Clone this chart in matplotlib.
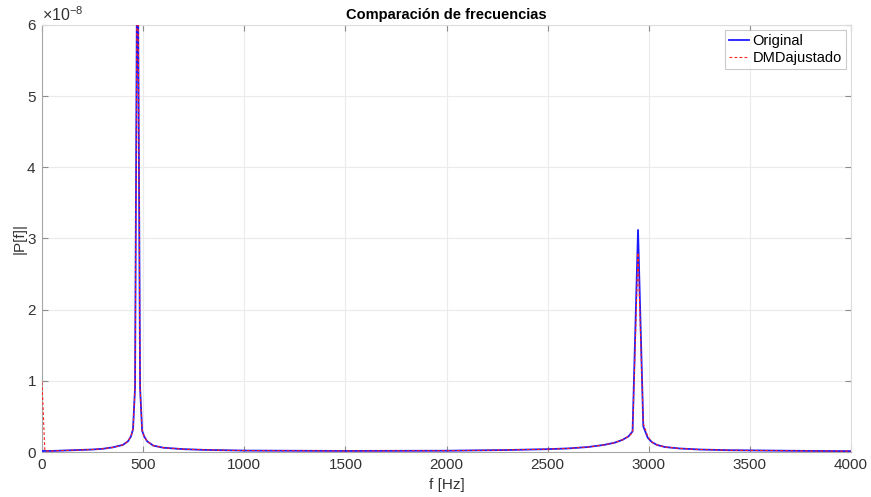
import matplotlib
matplotlib.use("Agg")
import matplotlib.pyplot as plt
from matplotlib.ticker import ScalarFormatter, MultipleLocator

plt.rcParams['font.family'] = ['Liberation Sans', 'DejaVu Sans']
plt.rcParams['mathtext.fontset'] = 'custom'
plt.rcParams['mathtext.rm'] = 'Liberation Sans'
plt.rcParams['mathtext.it'] = 'Liberation Sans'

# Frequency samples [Hz]
freq = [0, 14, 50, 100, 150, 200, 250, 300, 350, 400, 425, 440, 450, 460, 472,
        485, 495, 505, 520, 550, 600, 700, 800, 1000, 1200, 1500, 2000, 2300,
        2500, 2600, 2700, 2780, 2830, 2870, 2900, 2920, 2947, 2973, 2995, 3015,
        3040, 3080, 3150, 3250, 3400, 3600, 3800, 4000]

# |P[f]| values (units of 1e-8)
original = [0.015, 0.015, 0.015, 0.02, 0.025, 0.03, 0.035, 0.045, 0.065, 0.1, 0.15,
            0.22, 0.32, 0.9, 8.0, 0.9, 0.3, 0.22, 0.15, 0.09, 0.06, 0.04, 0.03,
            0.02, 0.018, 0.015, 0.018, 0.028, 0.04, 0.05, 0.07, 0.1, 0.13, 0.17,
            0.22, 0.29, 3.12, 0.36, 0.2, 0.14, 0.1, 0.07, 0.05, 0.035, 0.025,
            0.02, 0.015, 0.012]

dmd = [0.98, 0.015, 0.015, 0.02, 0.025, 0.03, 0.035, 0.045, 0.065, 0.1, 0.15,
       0.22, 0.32, 0.9, 8.0, 0.9, 0.3, 0.22, 0.15, 0.09, 0.06, 0.04, 0.03,
       0.02, 0.018, 0.015, 0.018, 0.028, 0.04, 0.05, 0.07, 0.1, 0.13, 0.17,
       0.22, 0.27, 2.8, 0.4, 0.22, 0.14, 0.1, 0.07, 0.05, 0.035, 0.025,
       0.02, 0.015, 0.012]

scale = 1e-8
orig_v = [v * scale for v in original]
dmd_v = [v * scale for v in dmd]

fig = plt.figure(figsize=(8.71, 4.97), dpi=100)
ax = fig.add_axes([42/871, 45/497, 809/871, 427/497])

ax.plot(freq, orig_v, color='#1a1aff', lw=1.3, label='Original', zorder=3)
ax.plot(freq, dmd_v, color='#ff2020', lw=0.8, ls=(0, (2.5, 2)), label='DMDajustado', zorder=4)

ax.set_xlim(0, 4000)
ax.set_ylim(0, 6e-8)
ax.xaxis.set_major_locator(MultipleLocator(500))
ax.yaxis.set_major_locator(MultipleLocator(1e-8))

fmt = ScalarFormatter(useMathText=True)
fmt.set_powerlimits((0, 0))
ax.yaxis.set_major_formatter(fmt)
ax.yaxis.get_offset_text().set_fontsize(11.5)
ax.yaxis.get_offset_text().set_color('#404040')

ax.grid(True, color='#ebebeb', lw=0.8)
ax.set_axisbelow(True)
for s in ['left', 'bottom']:
    ax.spines[s].set_color('#a6a6a6')
for s in ['top', 'right']:
    ax.spines[s].set_color('#dcdcdc')
ax.tick_params(direction='in', top=True, right=True, length=4, color='#8c8c8c',
               labelsize=11, labelcolor='#333333', pad=4)

ax.set_title('Comparación de frecuencias', fontsize=10.5, fontweight='bold', pad=4)
ax.set_xlabel('f [Hz]', fontsize=11, color='#333333', labelpad=5)
ax.set_ylabel('|P[f]|', fontsize=11, color='#333333', labelpad=0)

leg = ax.legend(loc='upper right', fontsize=10.5, frameon=True, fancybox=False,
                handlelength=1.4, handletextpad=0.2, borderpad=0.3,
                labelspacing=0.15, borderaxespad=0.35)
leg.get_frame().set_edgecolor('#bdbdbd')
leg.get_frame().set_linewidth(0.8)

fig.savefig('out.png', dpi=100)
